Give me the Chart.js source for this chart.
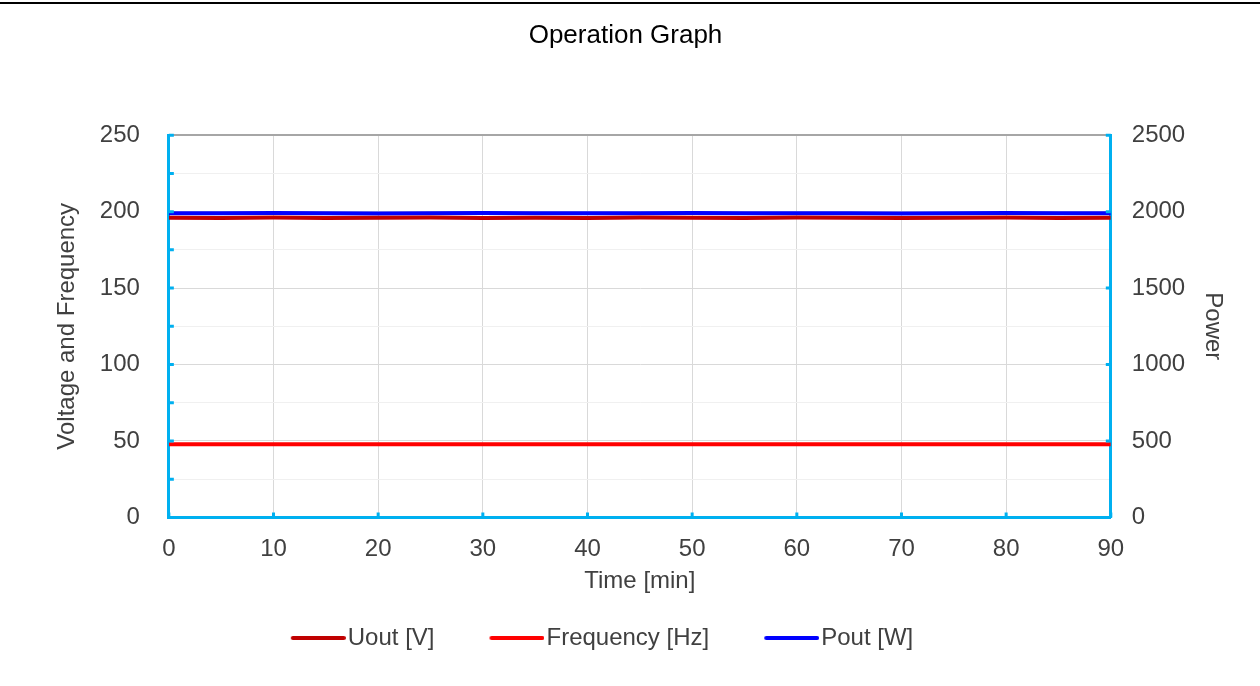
<!DOCTYPE html>
<html lang="en">
<head>
  <meta charset="UTF-8">
  <title>Operation Graph</title>
  <script src="https://cdn.jsdelivr.net/npm/chart.js"></script>
  <style>
      body {
          margin: 0;
          background: #ffffff;
          font-family: "Liberation Sans", Arial, sans-serif;
      }
      #topline {
          margin-top: 2px;
          height: 2px;
          background: #000000;
      }
      #chart-container {
          width: 1260px;
          height: 682px;
      }
  </style>
</head>
<body>
  <div id="topline"></div>
  <div id="chart-container">
      <canvas id="opChart"></canvas>
  </div>

  <script>
      // time in minutes
      var times = [0, 5, 10, 15, 20, 25, 30, 35, 40, 45, 50, 55, 60, 65, 70, 75, 80, 85, 90];

      var uout = [196.0, 195.9, 196.1, 195.8, 196.0, 196.2, 195.9, 196.0, 195.8, 196.1,
                  196.0, 195.9, 196.1, 196.0, 195.8, 196.0, 196.1, 195.9, 196.0];

      var frequency = [47.8, 47.8, 47.8, 47.8, 47.8, 47.8, 47.8, 47.8, 47.8, 47.8,
                       47.8, 47.8, 47.8, 47.8, 47.8, 47.8, 47.8, 47.8, 47.8];

      var pout = [1990, 1989, 1991, 1990, 1988, 1990, 1991, 1989, 1990, 1990,
                  1991, 1989, 1990, 1990, 1988, 1990, 1991, 1990, 1990];

      function pairs(ys) {
          return ys.map((y, i) => ({ x: times[i], y: y }));
      }

      const axisBlue = '#00B0F0';
      const textColor = '#404040';
      const fontFamily = '"Liberation Sans", Arial, sans-serif';

      // legend swatch: short line sitting right next to its label
      function swatch(color) {
          const c = document.createElement('canvas');
          c.width = 110;
          c.height = 4;
          const g = c.getContext('2d');
          g.strokeStyle = color;
          g.lineWidth = 4;
          g.lineCap = 'round';
          g.beginPath();
          g.moveTo(57, 2);
          g.lineTo(108, 2);
          g.stroke();
          return c;
      }

      // small inward tick marks on the blue axis lines
      Chart.register({
          id: 'innerTicks',
          afterDraw: (chart) => {
              const { ctx, chartArea: { left, right, bottom }, scales: { x, y, y1 } } = chart;
              ctx.save();
              ctx.strokeStyle = axisBlue;
              ctx.lineWidth = 3;
              ctx.beginPath();
              for (let v = 0; v <= 250; v += 25) {
                  const py = y.getPixelForValue(v);
                  ctx.moveTo(left, py);
                  ctx.lineTo(left + 5, py);
              }
              for (let v = 0; v <= 2500; v += 500) {
                  const py = y1.getPixelForValue(v);
                  ctx.moveTo(right, py);
                  ctx.lineTo(right - 5, py);
              }
              for (let v = 0; v <= 90; v += 10) {
                  const px = x.getPixelForValue(v);
                  ctx.moveTo(px, bottom);
                  ctx.lineTo(px, bottom - 5);
              }
              ctx.stroke();
              ctx.restore();
          }
      });

      // title and legend sit a bit left of centre
      Chart.register({
          id: 'nudgeBoxes',
          afterLayout: (chart) => {
              chart.titleBlock.left -= 16;
              chart.titleBlock.right -= 16;
              chart.legend.left -= 62;
              chart.legend.right -= 62;
          }
      });

      var ctx = document.getElementById('opChart').getContext('2d');
      var opChart = new Chart(ctx, {
          type: 'line',
          data: {
              datasets: [
                  {
                      label: 'Uout [V]',
                      data: pairs(uout),
                      borderColor: '#C00000',
                      backgroundColor: '#C00000',
                      borderWidth: 4,
                      pointRadius: 0,
                      pointStyle: swatch('#C00000'),
                      yAxisID: 'y'
                  },
                  {
                      label: 'Frequency [Hz]',
                      data: pairs(frequency),
                      borderColor: '#FF0000',
                      backgroundColor: '#FF0000',
                      borderWidth: 4,
                      pointRadius: 0,
                      pointStyle: swatch('#FF0000'),
                      yAxisID: 'y'
                  },
                  {
                      label: 'Pout [W]',
                      data: pairs(pout),
                      borderColor: '#0000FF',
                      backgroundColor: '#0000FF',
                      borderWidth: 4,
                      pointRadius: 0,
                      pointStyle: swatch('#0000FF'),
                      yAxisID: 'y1'
                  }
              ]
          },
          options: {
              responsive: true,
              maintainAspectRatio: false,
              animation: false,
              events: [],
              layout: {
                  padding: { left: 43, right: 20, top: 0, bottom: 26 }
              },
              scales: {
                  x: {
                      type: 'linear',
                      min: 0,
                      max: 90,
                      ticks: { stepSize: 10, color: textColor, font: { size: 24, family: fontFamily }, padding: 18 },
                      grid: { color: '#D9D9D9', lineWidth: 1, drawTicks: false },
                      border: { color: axisBlue, width: 3 },
                      title: { display: true, text: 'Time [min]', color: textColor, font: { size: 24, family: fontFamily }, padding: { top: -15, bottom: 20 } }
                  },
                  y: {
                      position: 'left',
                      min: 0,
                      max: 250,
                      ticks: {
                          stepSize: 25,
                          color: textColor,
                          font: { size: 24, family: fontFamily },
                          padding: 29,
                          callback: (v) => (v % 50 === 0 ? v : '')
                      },
                      grid: {
                          drawTicks: false,
                          color: (c) => c.tick.value === 250 ? '#A6A6A6' : (c.tick.value % 50 === 0 ? '#D9D9D9' : '#F0F0F0'),
                          lineWidth: (c) => c.tick.value === 250 ? 2 : 1
                      },
                      border: { color: axisBlue, width: 3 },
                      title: { display: true, text: 'Voltage and Frequency', color: textColor, font: { size: 24, family: fontFamily }, padding: { top: 10, bottom: -11 } }
                  },
                  y1: {
                      position: 'right',
                      min: 0,
                      max: 2500,
                      ticks: { stepSize: 500, color: textColor, font: { size: 24, family: fontFamily }, padding: 21, callback: (v) => v },
                      grid: { drawOnChartArea: false, drawTicks: false },
                      border: { color: axisBlue, width: 3 },
                      title: { display: true, text: 'Power', color: textColor, font: { size: 24, family: fontFamily }, padding: { top: 13, bottom: -8 } }
                  }
              },
              plugins: {
                  title: {
                      display: true,
                      text: 'Operation Graph',
                      color: '#000000',
                      font: { size: 26, weight: 'normal', family: fontFamily },
                      padding: { top: 16, bottom: 84 }
                  },
                  legend: {
                      position: 'bottom',
                      labels: {
                          color: textColor,
                          font: { size: 24, family: fontFamily },
                          usePointStyle: true,
                          pointStyleWidth: 90,
                          padding: 10
                      }
                  },
                  tooltip: { enabled: false }
              }
          }
      });
  </script>
</body>
</html>
